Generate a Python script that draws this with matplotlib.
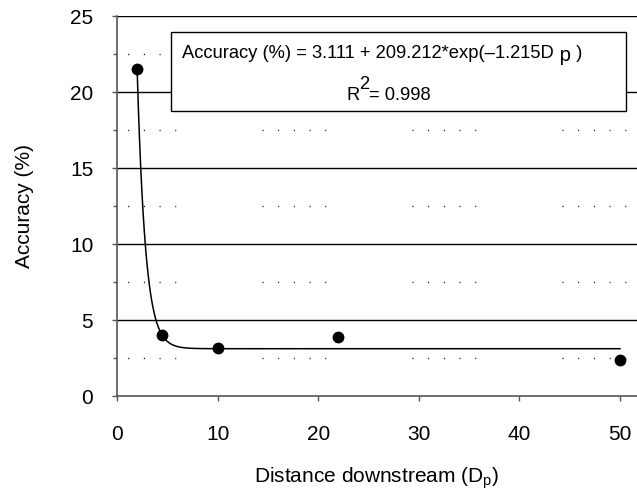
import numpy as np
import matplotlib
matplotlib.use("Agg")
import matplotlib.pyplot as plt
from matplotlib.patches import Rectangle
from matplotlib.transforms import Affine2D

plt.rcParams['font.family'] = ['Liberation Sans', 'DejaVu Sans']
plt.rcParams['mathtext.fontset'] = 'custom'
plt.rcParams['mathtext.rm'] = 'Liberation Sans'
plt.rcParams['mathtext.it'] = 'Liberation Sans'

# measured points
distance = [2.0, 4.5, 10.0, 22.0, 50.0]
accuracy = [21.5, 4.0, 3.15, 3.85, 2.4]

# fitted curve from the equation in the box
fit_a, fit_b, fit_c = 3.111, 209.212, 1.215
r_squared = 0.998

x_ticks = [0, 10, 20, 30, 40, 50]
y_ticks = [0, 5, 10, 15, 20, 25]
y_minor = [2.5, 7.5, 12.5, 17.5, 22.5]

fig = plt.figure(figsize=(6.37, 4.93), dpi=100)
H = fig.bbox.height
ax = fig.add_axes([117 / 637, 1 - 396 / 493, 1 - 117 / 637, (396 - 16) / 493])

# major grid (solid) and minor grid (groups of sparse dots)
for y in y_ticks[1:]:
    ax.axhline(y, color='black', lw=1.0, zorder=1)
dot_style = (3.6, (0.7, 10.6, 0.7, 10.6, 0.7, 10.6, 0.7, 10.6, 0.7, 62.1))
for y in y_minor:
    ax.axhline(y, color='black', lw=1.0, linestyle=dot_style, zorder=1)

xs = np.linspace(distance[0], distance[-1], 400)
ax.plot(xs, fit_a + fit_b * np.exp(-fit_c * xs), color='black', lw=1.1, zorder=3)
ax.plot(distance, accuracy, 'o', color='black', markersize=7.5, zorder=4)

ax.set_xlim(0, 51.7)
ax.set_ylim(0, 25)
ax.set_xticks(x_ticks)
ax.set_yticks(y_ticks)
ax.set_yticks(y_minor, minor=True)
ax.tick_params(axis='both', which='major', direction='out', length=3.6, width=1,
               color='#555555', labelsize=15)
ax.tick_params(axis='y', which='minor', direction='out', length=3, width=1, color='#555555')
ax.tick_params(axis='y', pad=13.5)
ax.tick_params(axis='x', pad=17)
for s in ['top', 'right']:
    ax.spines[s].set_visible(False)
for s in ['left', 'bottom']:
    ax.spines[s].set_color('#555555')
    ax.spines[s].set_linewidth(1.2)

ax.set_xlabel(r'Distance downstream (D$_\mathregular{p}$)', fontsize=15, labelpad=16)
ax.set_ylabel('Accuracy (%)', fontsize=15, labelpad=26)

# equation box
box = Rectangle((171 / 637, 1 - 111 / 493), (626 - 171) / 637, (111 - 32) / 493,
                transform=fig.transFigure, facecolor='white', edgecolor='black',
                lw=1.0, zorder=5)
fig.patches.append(box)

fs = 13.2
r = fig.canvas.get_renderer()


def text_at(x_px, y_px, s, size=fs):
    # place text by pixel position (baseline), return right edge in pixels
    t = fig.text(0, 0, s, fontsize=size, va='baseline', ha='left', zorder=6,
                 transform=Affine2D().translate(x_px, H - y_px))
    return t.get_window_extent(r).x1


x = text_at(182, 58, 'Accuracy (%%) = %.3f + %.3f*exp(\u2013%.3fD' % (fit_a, fit_b, fit_c))
x = text_at(x, 61, ' p', fs + 1.5)
text_at(x, 58, ' )')

x = text_at(346, 100, 'R')
x = text_at(x, 89, '2')
text_at(x, 100, '= %.3f' % r_squared)

fig.savefig('out.png', dpi=100)
